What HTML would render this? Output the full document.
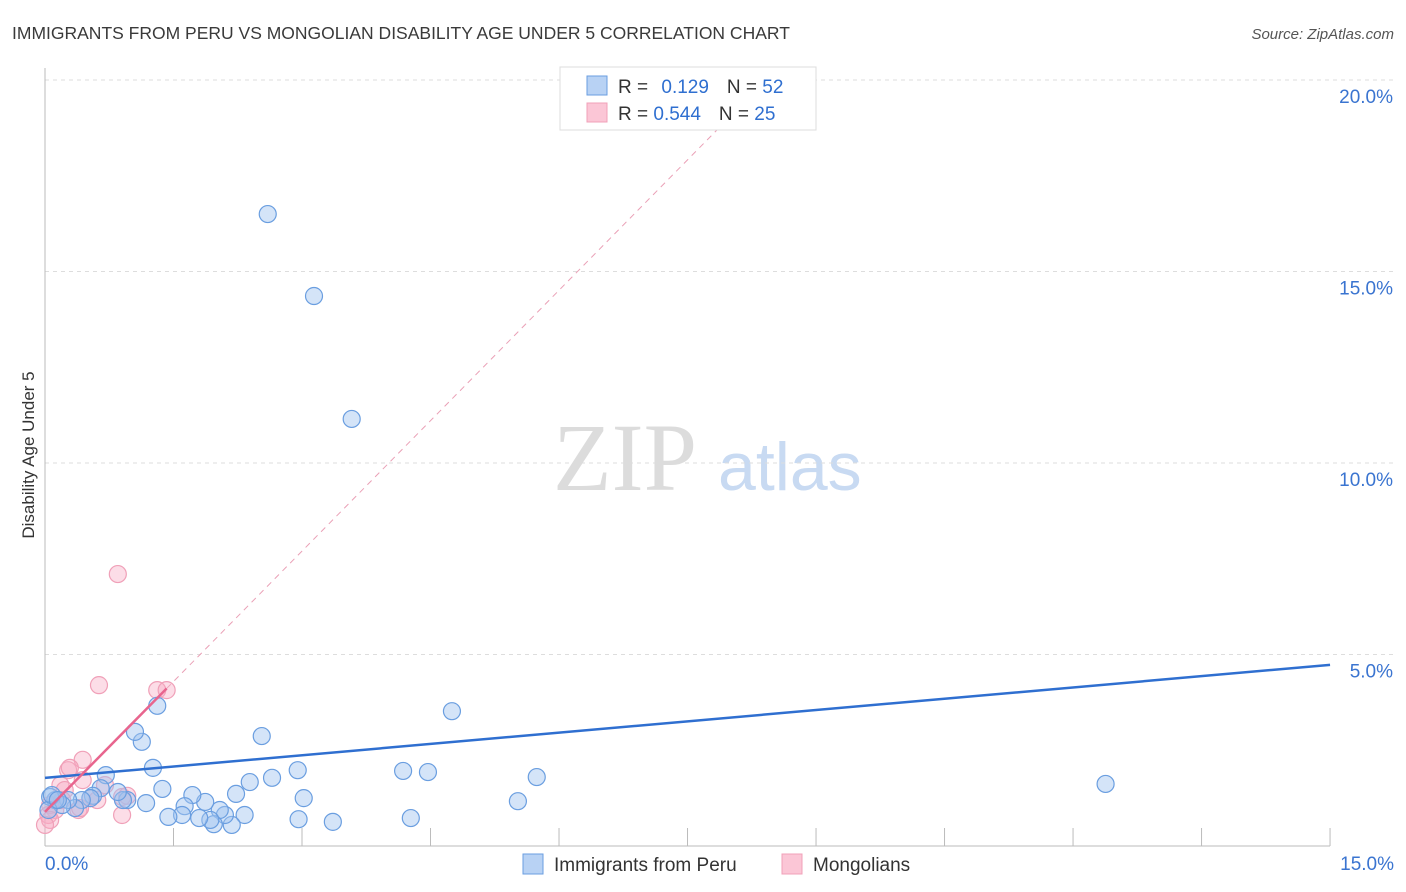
<!DOCTYPE html>
<html><head><meta charset="utf-8"><style>
body{margin:0;background:#fff;font-family:"Liberation Sans",sans-serif;}
svg{display:block}
</style></head><body>
<svg id="chart" width="1406" height="892">
<text x="12" y="39" font-size="17.5" fill="#3a3a3a">IMMIGRANTS FROM PERU VS MONGOLIAN DISABILITY AGE UNDER 5 CORRELATION CHART</text>
<text x="1394" y="39" font-size="15" fill="#555" font-style="italic" text-anchor="end">Source: ZipAtlas.com</text>
<text x="34" y="455" font-size="17" fill="#333" text-anchor="middle" transform="rotate(-90 34 455)">Disability Age Under 5</text>
<g>
<text x="553" y="490" font-size="96" font-family="Liberation Serif,serif" fill="#dcdcdc">ZIP</text>
<text x="718" y="490" font-size="68" fill="#c8daf2">atlas</text>
</g>
<g id="grid"></g>
<g id="axes"></g>
<g id="trends"></g>
<g id="points"></g>
<g>
<rect x="560" y="67" width="256" height="63" fill="#fff" stroke="#ddd"/>
<rect x="587" y="76" width="20" height="19" fill="#b8d2f4" stroke="#6a9ee0"/>
<rect x="587" y="103" width="20" height="19" fill="#fbc6d6" stroke="#f0a0b8"/>
<text x="618" y="93" font-size="19" fill="#333">R = <tspan fill="#2f6fd0" dx="8">0.129</tspan><tspan fill="#333" dx="18">N = </tspan><tspan fill="#2f6fd0">52</tspan></text>
<text x="618" y="120" font-size="19" fill="#333">R = <tspan fill="#2f6fd0">0.544</tspan><tspan fill="#333" dx="18">N = </tspan><tspan fill="#2f6fd0">25</tspan></text>
</g>
<g>
<rect x="523" y="854" width="20" height="20" fill="#b8d2f4" stroke="#6a9ee0"/>
<text x="554" y="871" font-size="19" fill="#333">Immigrants from Peru</text>
<rect x="782" y="854" width="20" height="20" fill="#fbc6d6" stroke="#f0a0b8"/>
<text x="813" y="871" font-size="19" fill="#333">Mongolians</text>
</g>
</svg>
<script>
const blueX=[2.60,3.14,3.58,4.75,12.38,5.74,5.52,4.47,4.18,4.27,3.36,3.02,2.95,2.96,2.65,2.53,2.39,2.33,2.23,2.18,2.10,2.04,1.97,1.93,1.87,1.80,1.72,1.63,1.60,1.44,1.37,1.31,1.26,1.18,1.13,1.05,0.96,0.91,0.85,0.71,0.65,0.56,0.53,0.43,0.35,0.27,0.20,0.12,0.06,0.04,0.08,0.15];
const blueY=[16.50,14.36,11.15,3.52,1.62,1.80,1.17,1.93,1.96,0.73,0.63,1.25,1.98,0.70,1.78,2.87,1.67,0.81,1.36,0.55,0.81,0.94,0.57,0.68,1.15,0.73,1.33,1.04,0.81,0.76,1.49,3.66,2.04,1.12,2.72,2.98,1.20,1.20,1.41,1.85,1.51,1.31,1.25,1.20,0.99,1.20,1.07,1.20,1.28,0.94,1.33,1.20];
const pinkX=[0.85,0.63,1.31,1.42,0.44,0.27,0.29,0.44,0.18,0.53,0.61,0.90,0.96,0.90,0.39,0.41,0.12,0.06,0.04,0.23,0.12,0.06,0.20,0.70,0.0];
const pinkY=[7.10,4.20,4.07,4.07,2.25,1.98,2.04,1.72,1.59,1.25,1.20,1.28,1.31,0.81,0.94,0.99,1.20,1.07,0.81,1.46,0.94,0.68,1.20,1.59,0.55];
const blueTrend=[1.78,4.73];   // y at x=0 and x=15
const pinkTrend=[0.89,2.27];   // intercept, slope
const yTicks=[5,10,15,20];
const xLabels=["0.0%","15.0%"];
const NS="http://www.w3.org/2000/svg";
const X=v=>45+v*85.67, Y=v=>846-v*38.3;
function mk(tag,attrs,parent){const e=document.createElementNS(NS,tag);for(const k in attrs)e.setAttribute(k,attrs[k]);parent.appendChild(e);return e;}
const grid=document.getElementById('grid'),axes=document.getElementById('axes'),tr=document.getElementById('trends'),pts=document.getElementById('points');
yTicks.forEach(t=>{
 const l=mk('line',{x1:45,x2:1395,y1:Y(t),y2:Y(t),stroke:'#ddd','stroke-dasharray':'4 4'},grid);
 
 
 const tx=mk('text',{x:1393,y:Y(t)+23,'font-size':19,fill:'#3a74d0','text-anchor':'end'},axes);
 tx.textContent=t.toFixed(1)+'%';
 
 
});
const ya=mk('line',{x1:45,x2:45,y1:68,y2:846,stroke:'#bbb'},axes);


const xa=mk('line',{x1:45,x2:1330,y1:846,y2:846,stroke:'#bbb'},axes);


for(let i=1;i<=10;i++){
 const tk=mk('line',{x1:X(i*1.5),x2:X(i*1.5),y1:828,y2:846,stroke:'#bbb'},axes);
 
 
}
[[0,'start',45],[15,'end',1394]].forEach((d,i)=>{
 const tx=mk('text',{x:d[2],y:870,'font-size':19,fill:'#3a74d0','text-anchor':d[1]},axes);
 tx.textContent=xLabels[i];
 
 
});
const pd=mk('line',{x1:X(1.42),y1:Y(pinkTrend[0]+pinkTrend[1]*1.42),x2:X(8.4),y2:Y(pinkTrend[0]+pinkTrend[1]*8.4),stroke:'#eaa0b6','stroke-dasharray':'6 5','stroke-width':1},tr);


pinkX.forEach((x,i)=>{
 const c=mk('circle',{cx:X(x),cy:Y(pinkY[i]),r:8.5,fill:'rgba(248,170,195,0.4)',stroke:'#f0a0b8','stroke-width':1.2},pts);
 
 
});
blueX.forEach((x,i)=>{
 const c=mk('circle',{cx:X(x),cy:Y(blueY[i]),r:8.5,fill:'rgba(160,196,240,0.45)',stroke:'#6a9ee0','stroke-width':1.2},pts);
 
 
});
const bl=mk('line',{x1:X(0),y1:Y(blueTrend[0]),x2:X(15),y2:Y(blueTrend[1]),stroke:'#2f6fd0','stroke-width':2.5},pts);


const pl=mk('line',{x1:X(0),y1:Y(pinkTrend[0]),x2:X(1.42),y2:Y(pinkTrend[0]+pinkTrend[1]*1.42),stroke:'#e8658e','stroke-width':2.5},pts);


</script>
</body></html>
